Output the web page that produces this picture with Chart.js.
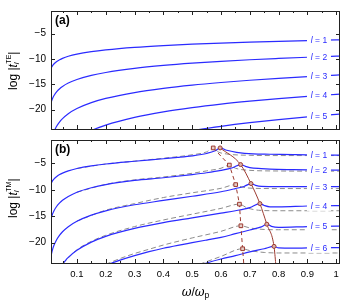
<!DOCTYPE html>
<html>
<head>
<meta charset="utf-8">
<script src="https://cdn.jsdelivr.net/npm/chart.js@4.4.0/dist/chart.umd.min.js"></script>
<style>
  html, body { margin: 0; padding: 0; background: #fff; }
  #wrap { position: relative; width: 347px; height: 303px; }
  canvas { position: absolute; left: 0; }
</style>
</head>
<body>
<div id="wrap">
  <canvas id="teChart" width="347" height="140" style="top:0"></canvas>
  <canvas id="tmChart" width="347" height="174" style="top:129px"></canvas>
</div>
<script>
// ---- data ----
const xTicks = [0.1, 0.2, 0.3, 0.4, 0.5, 0.6, 0.7, 0.8, 0.9, 1];
const yTicks = [-5, -10, -15, -20];

// (a) TE
const teX  = [0.01, 0.015, 0.02, 0.03, 0.04, 0.05, 0.07, 0.1, 0.15, 0.2, 0.3, 0.4, 0.5, 0.6, 0.7, 0.8, 0.9, 1.0, 1.015];
const teL1 = [-11.85, -11.37, -11.02, -10.52, -10.17, -9.90, -9.49, -9.06, -8.57, -8.22, -7.72, -7.37, -7.10, -6.88, -6.69, -6.53, -6.39, -6.26, -6.24];
const teL2 = [-18.67, -17.86, -17.29, -16.48, -15.90, -15.45, -14.78, -14.07, -13.26, -12.69, -11.88, -11.30, -10.85, -10.49, -10.18, -9.92, -9.68, -9.47, -9.44];
const teL3 = [null, null, -24.41, -23.25, -22.43, -21.79, -20.82, -19.8, -18.64, -17.81, -16.65, -15.83, -15.19, -14.67, -14.22, -13.84, -13.50, -13.2, -13.16];
const teL4 = [null, null, null, null, null, null, null, -25.7, -24.17, -23.08, -21.55, -20.46, -19.62, -18.93, -18.35, -17.84, -17.40, -17.0, -16.94];
const teL5 = [null, null, null, null, null, null, null, null, null, null, null, -25.21, -24.17, -23.33, -22.61, -21.99, -21.44, -20.95, -20.88];

// (b) TM, full (solid blue)
const tmX1 = [0.01, 0.015, 0.02, 0.03, 0.04, 0.05, 0.07, 0.1, 0.15, 0.2, 0.3, 0.4, 0.45, 0.5, 0.55, 0.58, 0.597, 0.62, 0.654, 0.712, 0.77, 0.85, 0.9, 1.0, 1.015];
const tmL1 = [-8.85, -8.3, -7.95, -7.45, -7.1, -6.83, -6.4, -5.95, -5.45, -5.1, -4.58, -4.1, -3.85, -3.55, -3.1, -2.6, -2.05, -2.5, -2.88, -3.19, -3.25, -3.33, -3.37, -3.40, -3.40];
const tmX2 = [0.01, 0.015, 0.02, 0.03, 0.04, 0.05, 0.07, 0.1, 0.15, 0.2, 0.3, 0.4, 0.5, 0.55, 0.6, 0.64, 0.668, 0.685, 0.70, 0.74, 0.77, 0.85, 0.9, 1.0, 1.015];
const tmL2 = [-15.5, -14.62, -13.98, -13.1, -12.47, -11.97, -11.25, -10.45, -9.6, -9.0, -8.2, -7.7, -7.1, -6.75, -6.3, -5.8, -5.2, -5.55, -5.78, -5.98, -6.08, -6.18, -6.22, -6.27, -6.27];
const tmX3 = [0.01, 0.015, 0.02, 0.03, 0.04, 0.05, 0.07, 0.1, 0.15, 0.2, 0.3, 0.4, 0.5, 0.6, 0.65, 0.68, 0.704, 0.72, 0.74, 0.8, 0.9, 1.0, 1.015];
const tmL3 = [-22.55, -21.36, -20.54, -19.39, -18.56, -17.93, -16.97, -15.95, -14.79, -13.97, -12.82, -12.0, -11.2, -10.35, -9.75, -9.35, -8.8, -9.15, -9.35, -9.4, -9.4, -9.4, -9.4];
const tmX4 = [0.05, 0.06, 0.07, 0.1, 0.15, 0.2, 0.3, 0.4, 0.5, 0.6, 0.65, 0.7, 0.735, 0.75, 0.77, 0.8, 0.9, 1.0, 1.015];
const tmL4 = [-24.07, -23.38, -22.79, -21.45, -19.9, -18.8, -17.3, -16.2, -15.3, -14.4, -13.95, -13.35, -12.6, -12.95, -13.2, -13.2, -13.05, -13.0, -13.0];
const tmX5 = [0.2, 0.25, 0.3, 0.35, 0.4, 0.45, 0.5, 0.55, 0.6, 0.65, 0.7, 0.74, 0.759, 0.775, 0.8, 0.9, 1.0, 1.015];
const tmL5 = [-24.3, -23.3, -22.45, -21.7, -21.05, -20.5, -20.0, -19.5, -19.0, -18.3, -17.6, -17.0, -16.5, -16.9, -17.1, -16.95, -16.85, -16.85];
const tmX6 = [0.5, 0.55, 0.6, 0.65, 0.7, 0.75, 0.784, 0.8, 0.85, 0.9, 1.0, 1.015];
const tmL6 = [-24.8, -23.85, -23.1, -22.45, -21.75, -21.15, -20.7, -21.0, -21.05, -21.0, -20.95, -20.95];

// (b) TM, quasi-static (grey dashed)
const qsX1 = [0.1, 0.2, 0.3, 0.4, 0.5, 0.55, 0.573, 0.59, 0.62, 0.7, 0.8, 0.9, 1.0, 1.015];
const qsL1 = [-5.95, -5.1, -4.55, -4.0, -3.35, -2.8, -2.05, -2.8, -3.2, -3.45, -3.5, -3.5, -3.5, -3.5];
const qsX2 = [0.1, 0.2, 0.3, 0.4, 0.5, 0.55, 0.6, 0.629, 0.65, 0.7, 0.8, 0.9, 1.0, 1.015];
const qsL2 = [-10.45, -8.95, -8.1, -7.55, -6.85, -6.4, -5.9, -5.3, -5.9, -6.3, -6.42, -6.45, -6.45, -6.45];
const qsX3 = [0.1, 0.2, 0.3, 0.4, 0.5, 0.6, 0.651, 0.67, 0.71, 0.8, 0.9, 1.0, 1.015];
const qsL3 = [-15.9, -13.85, -12.6, -11.45, -10.55, -9.7, -9.0, -9.4, -9.7, -9.75, -9.75, -9.75, -9.75];
const qsX4 = [0.05, 0.1, 0.15, 0.2, 0.3, 0.4, 0.5, 0.6, 0.664, 0.69, 0.73, 0.8, 0.9, 1.0, 1.015];
const qsL4 = [-24.0, -21.35, -19.75, -18.6, -16.95, -15.7, -14.6, -13.5, -12.7, -13.4, -13.85, -13.95, -13.95, -13.95, -13.95];
const qsX5 = [0.2, 0.25, 0.3, 0.35, 0.4, 0.5, 0.6, 0.669, 0.7, 0.75, 0.8, 0.9, 1.0, 1.015];
const qsL5 = [-24.1, -23.0, -22.05, -21.25, -20.45, -19.1, -17.85, -16.8, -17.2, -17.5, -17.55, -17.55, -17.55, -17.55];
const qsX6 = [0.5, 0.55, 0.6, 0.675, 0.7, 0.75, 0.8, 0.9, 1.0, 1.015];
const qsL6 = [-24.6, -23.6, -22.6, -21.15, -21.5, -21.85, -21.95, -21.95, -21.95, -21.95];

// resonance positions: quasi-static (squares, dashed) and full (dots, solid)
const qsResX = [0.573, 0.629, 0.651, 0.664, 0.669, 0.675];
const qsResY = [-2.05, -5.3, -9.0, -12.7, -16.8, -21.15];
const qsTail = [0.679, -24.0];
const pkX = [0.597, 0.668, 0.704, 0.735, 0.759, 0.784];
const pkY = [-2.05, -5.2, -8.8, -12.6, -16.5, -20.7];
const pkTail = [0.79, -24.0];

// ---- helpers ----
const BLUE = '#2b2bff', GREY = '#8c8c8c', BROWN = '#9c3a30';
const pts = (xs, ys) => xs.map((x, i) => ({ x: x, y: ys[i] }));
const FONT = "'Liberation Sans', Arial, sans-serif";

function curve(xs, ys, label) {
  return { data: pts(xs, ys), curveLabel: label, borderColor: BLUE, borderWidth: 1.2,
    pointRadius: 0, cubicInterpolationMode: 'monotone', fill: false };
}
function dashed(xs, ys) {
  return { data: pts(xs, ys), borderColor: GREY, borderWidth: 1, borderDash: [5, 3],
    pointRadius: 0, cubicInterpolationMode: 'monotone', fill: false };
}
function valueAt(data, x) {
  for (let i = 1; i < data.length; i++) {
    const a = data[i - 1], b = data[i];
    if (a.y == null || b.y == null) continue;
    if (x >= a.x && x <= b.x) return a.y + (b.y - a.y) * (x - a.x) / (b.x - a.x);
  }
  return null;
}

// frame with inward ticks
const framePlugin = {
  id: 'frame',
  afterDraw(chart) {
    const { ctx, chartArea: a, scales: { x, y } } = chart;
    ctx.save();
    ctx.strokeStyle = '#222';
    ctx.lineWidth = 1;
    ctx.strokeRect(a.left + 0.5, a.top + 0.5, a.right - a.left - 1, a.bottom - a.top);
    ctx.beginPath();
    for (let v = 0.05; v < 1.01; v += 0.05) {
      const px = Math.round(x.getPixelForValue(v)) + 0.5;
      const len = Math.abs(v * 10 - Math.round(v * 10)) < 1e-6 ? 4 : 2;
      ctx.moveTo(px, a.bottom); ctx.lineTo(px, a.bottom - len);
      ctx.moveTo(px, a.top); ctx.lineTo(px, a.top + len);
    }
    yTicks.forEach(v => {
      const py = Math.round(y.getPixelForValue(v)) + 0.5;
      ctx.moveTo(a.left, py); ctx.lineTo(a.left + 4, py);
      ctx.moveTo(a.right, py); ctx.lineTo(a.right - 4, py);
    });
    ctx.stroke();
    ctx.restore();
  }
};

// "l = n" labels sitting on the curves, plus panel letter and y title
const textPlugin = {
  id: 'texts',
  afterDatasetsDraw(chart, args, opts) {
    const { ctx, chartArea: a, scales: { x, y } } = chart;
    ctx.save();
    const lx = 0.94;
    chart.data.datasets.forEach(ds => {
      if (!ds.curveLabel) return;
      const v = valueAt(ds.data, lx);
      const px = x.getPixelForValue(lx), py = y.getPixelForValue(v);
      ctx.fillStyle = '#fff';
      ctx.fillRect(px - 12, py - 5, 24, 10);
      ctx.fillStyle = BLUE;
      ctx.textBaseline = 'middle';
      ctx.font = 'italic 8.5px ' + FONT;
      const w1 = ctx.measureText('l').width;
      ctx.font = '8.5px ' + FONT;
      const rest = ' = ' + ds.curveLabel;
      const w2 = ctx.measureText(rest).width;
      const x0 = px - (w1 + w2) / 2;
      ctx.font = 'italic 8.5px ' + FONT;
      ctx.textAlign = 'left';
      ctx.fillText('l', x0, py + 0.5);
      ctx.font = '8.5px ' + FONT;
      ctx.fillText(rest, x0 + w1, py + 0.5);
    });
    // panel letter
    ctx.fillStyle = '#000';
    ctx.font = 'bold 12px ' + FONT;
    ctx.textAlign = 'left';
    ctx.textBaseline = 'top';
    ctx.fillText(opts.letter, a.left + 4, a.top + 4);
    // y title
    ctx.translate(14, (a.top + a.bottom) / 2 + opts.titleShift);
    ctx.rotate(-Math.PI / 2);
    ctx.textBaseline = 'middle';
    const parts = [
      ['12px ' + FONT, 'log |', 0],
      ['italic 12px ' + FONT, 't', 0],
      ['italic 8px ' + FONT, 'l', 3],
      ['7px ' + FONT, opts.sup, -4.5],
      ['12px ' + FONT, '|', 0]
    ];
    let total = 0;
    parts.forEach(p => { ctx.font = p[0]; p.push(ctx.measureText(p[1]).width); total += p[3]; });
    total -= parts[2][3];
    let cx = -total / 2;
    parts.forEach((p, i) => {
      ctx.font = p[0];
      ctx.fillText(p[1], cx, p[2]);
      if (i !== 2) cx += p[3];
      else cx += 0.5;
    });
    ctx.restore();
    // x title
    if (opts.xTitle) {
      ctx.save();
      ctx.fillStyle = '#000';
      ctx.textBaseline = 'middle';
      ctx.textAlign = 'left';
      const cy = 164;
      const segs = [
        ["italic 12px 'DejaVu Serif', serif", 'ω', 0],
        ['12px ' + FONT, '/', 0],
        ["italic 12px 'DejaVu Serif', serif", 'ω', 0],
        ['8.5px ' + FONT, 'p', 3]
      ];
      let tw = 0;
      segs.forEach(s => { ctx.font = s[0]; s.push(ctx.measureText(s[1]).width); tw += s[3]; });
      let sx = (a.left + a.right) / 2 - tw / 2;
      segs.forEach(s => { ctx.font = s[0]; ctx.fillText(s[1], sx, cy + s[2]); sx += s[3]; });
      ctx.restore();
    }
  }
};

function makeOptions(showX, letter, sup, titleShift) {
  return {
    responsive: false,
    animation: false,
    events: [],
    layout: { padding: { left: 0, right: 7, top: 5, bottom: showX ? 0 : 6 } },
    plugins: { legend: { display: false }, tooltip: { enabled: false },
      texts: { letter: letter, sup: sup, xTitle: showX, titleShift: titleShift } },
    scales: {
      x: {
        type: 'linear', min: 0.01, max: 1.013, display: showX,
        afterFit(s) { s.height = showX ? 40 : 0; },
        afterBuildTicks(s) { s.ticks = xTicks.map(v => ({ value: v })); },
        grid: { display: false, drawTicks: false }, border: { display: false },
        ticks: { padding: 6, color: '#000', font: { family: FONT, size: 9.5 },
          maxRotation: 0, autoSkip: false, callback: v => String(Math.round(v * 10) / 10) }
      },
      y: {
        type: 'linear', min: -23.85, max: -0.55,
        afterFit(s) { s.width = 51; },
        afterBuildTicks(s) { s.ticks = yTicks.map(v => ({ value: v })); },
        grid: { display: false, drawTicks: false }, border: { display: false },
        ticks: { padding: 5, color: '#000', font: { family: FONT, size: 10 },
          callback: v => '\u2212' + Math.abs(v) }
      }
    }
  };
}

new Chart(document.getElementById('teChart'), {
  type: 'line',
  data: { datasets: [
    curve(teX, teL1, '1'), curve(teX, teL2, '2'), curve(teX, teL3, '3'),
    curve(teX, teL4, '4'), curve(teX, teL5, '5')
  ] },
  options: makeOptions(false, '(a)', 'TE', 1),
  plugins: [framePlugin, textPlugin]
});

new Chart(document.getElementById('tmChart'), {
  type: 'line',
  data: { datasets: [
    { data: pts(pkX, pkY), showLine: false, pointStyle: 'circle', pointRadius: 2,
      pointBorderColor: BROWN, pointBackgroundColor: '#d9b0a8', pointBorderWidth: 1 },
    { data: pts(qsResX, qsResY), showLine: false, pointStyle: 'rect', pointRadius: 2.6,
      pointBorderColor: BROWN, pointBackgroundColor: '#e6cfc8', pointBorderWidth: 1 },
    { data: pts(pkX.concat([pkTail[0]]), pkY.concat([pkTail[1]])), borderColor: BROWN,
      borderWidth: 1, pointRadius: 0, cubicInterpolationMode: 'monotone' },
    { data: pts(qsResX.concat([qsTail[0]]), qsResY.concat([qsTail[1]])), borderColor: BROWN,
      borderWidth: 1, borderDash: [4, 3], pointRadius: 0 },
    curve(tmX1, tmL1, '1'), curve(tmX2, tmL2, '2'), curve(tmX3, tmL3, '3'),
    curve(tmX4, tmL4, '4'), curve(tmX5, tmL5, '5'), curve(tmX6, tmL6, '6'),
    dashed(qsX1, qsL1), dashed(qsX2, qsL2), dashed(qsX3, qsL3),
    dashed(qsX4, qsL4), dashed(qsX5, qsL5), dashed(qsX6, qsL6)
  ] },
  options: makeOptions(true, '(b)', 'TM', -3),
  plugins: [framePlugin, textPlugin]
});
</script>
</body>
</html>
